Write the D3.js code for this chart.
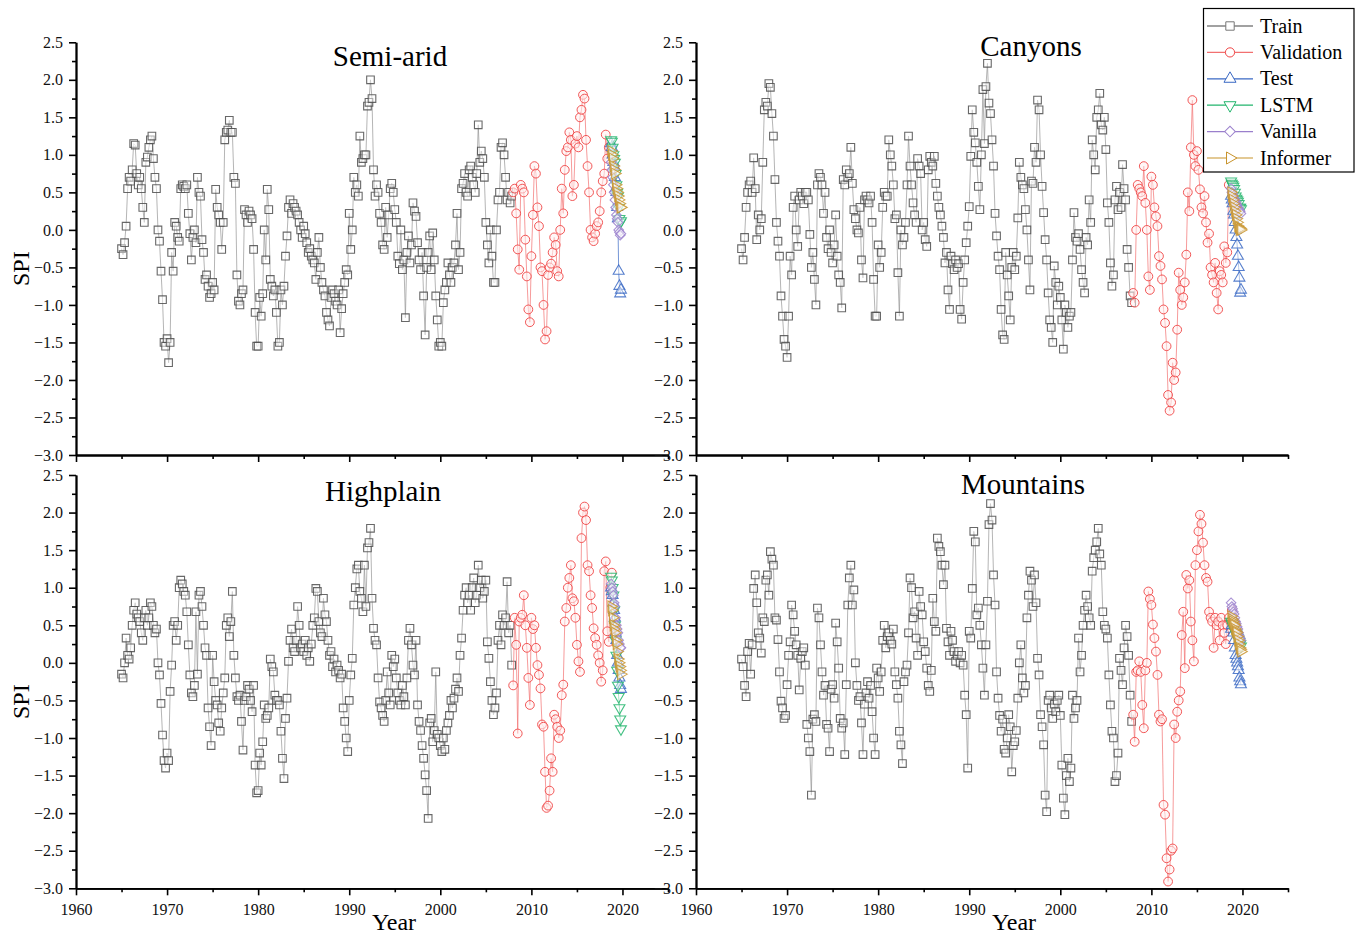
<!DOCTYPE html>
<html><head><meta charset="utf-8">
<script src="https://cdn.jsdelivr.net/npm/d3@7"></script>
<style>
body{margin:0;background:#fff;}
svg{display:block;font-family:"Liberation Serif","Times New Roman",serif;}
svg text{font-family:"Liberation Serif","Times New Roman",serif;}
</style>
</head><body>
<svg id="chart" width="1363" height="936"></svg>
<script>
// ---------------- DATA ----------------
const regionNames = ["Semi-arid", "Canyons", "Highplain", "Mountains"];
const seriesNames = ["Train", "Validation", "Test", "LSTM", "Vanilla", "Informer"];
const trainStart = 1965, valStart = 2008, testStart = 2018.75;
const coarseStep = 1 / 6, testStep = 1 / 12;
const xMajorTicks = [1960, 1970, 1980, 1990, 2000, 2010, 2020];
const xMinorTicks = [1965, 1975, 1985, 1995, 2005, 2015, 2025];
const yMajorTicks = [-3.0, -2.5, -2.0, -1.5, -1.0, -0.5, 0.0, 0.5, 1.0, 1.5, 2.0, 2.5];
const yMinorTicks = [-2.75, -2.25, -1.75, -1.25, -0.75, -0.25, 0.25, 0.75, 1.25, 1.75, 2.25];

const semiTrain = [
-0.25,-0.33,-0.17,0.05,0.55,0.7, 0.65,0.8,1.15,1.13,0.75,0.6, 0.7,0.55,0.3,0.1,0.9,0.97,
1.1,1.2,1.25,0.95,0.7,0.55, 0.0,-0.15,-0.55,-0.93,-1.5,-1.55, -1.45,-1.77,-1.5,-0.3,-0.55,0.1,
0.05,-0.1,-0.15,0.55,0.6,0.58, 0.55,0.6,0.22,-0.05,-0.4,-0.1, 0.0,-0.17,0.7,0.5,0.45,-0.13,
-0.3,-0.66,-0.6,-0.75,-0.9,-0.85, -0.7,-0.8,0.54,0.3,0.2,0.1, -0.26,0.1,1.2,1.3,1.33,1.46,
1.3,1.3,0.7,0.62,-0.6,-0.95, -1.0,-0.85,-0.8,0.27,0.2,0.1, 0.25,0.2,0.15,-0.26,-1.1,-1.55,
-1.55,-0.9,-1.15,-0.85,0.0,-0.4, 0.54,0.27,-0.66,-0.75,-0.88,-0.8, -1.1,-1.55,-1.5,-0.8,-1.0,-0.75,
-0.35,-0.08,0.3,0.4,0.22,0.35, 0.3,0.25,0.2,0.1,0.0,-0.1, 0.05,-0.05,-0.17,-0.3,-0.25,-0.35,
-0.4,-0.44,-0.66,-0.3,-0.1,-0.5, -0.7,-0.8,-0.88,-1.1,-1.2,-1.28, -0.9,-0.8,-0.85,-0.95,-1.0,-0.8,
-1.37,-1.05,-0.85,-0.7,-0.53,-0.6, 0.22,-0.26,0.0,0.7,0.5,0.6, 0.45,1.25,0.9,0.95,1.0,1.0,
1.65,1.7,2.0,1.75,0.8,0.45, 0.6,0.5,0.22,0.1,-0.2,-0.26, 0.3,-0.1,0.2,0.55,0.62,0.5,
0.27,0.1,-0.35,-0.45,0.0,-0.53, -0.4,-1.17,-0.3,-0.08,-0.44,-0.2, 0.36,0.25,0.18,-0.17,-0.4,-0.53,
-0.3,-0.88,-1.4,-0.5,-0.3,-0.08, -0.53,-0.04,-0.4,-0.88,-1.2,-1.55, -1.5,-1.55,-0.97,-0.8,-0.7,-0.44,
-0.6,-0.7,-0.5,-0.44,-0.2,0.22, -0.53,-0.3,0.55,0.62,0.75,0.5, 0.45,0.8,0.85,0.7,0.6,0.5,
0.75,1.4,0.9,1.05,0.95,0.7, 0.1,-0.2,-0.44,0.0,-0.35,-0.7, -0.7,0.0,0.4,0.5,1.1,1.16,
1.0,0.7,0.4,0.5,0.36,0.45];
const semiVal = [
0.5,0.55,0.22,-0.26,-0.53,0.6, 0.55,0.5,-0.13,-0.62,-1.06,-1.23, -0.35,0.2,0.85,0.75,0.3,0.05,
-0.5,-0.55,-1.0,-1.46,-1.35,-0.6, -0.5,-0.45,-0.3,-0.1,-0.2,-0.55, -0.62,0.0,0.55,0.22,0.8,1.05,
1.1,1.3,1.2,0.45,0.6,1.15, 1.25,1.1,1.5,1.6,1.8,1.75, 1.2,0.85,0.5,0.0,-0.1,-0.15,
-0.05,0.05,0.1,0.25,0.5,0.65, 0.75,1.27,0.95,1.1];
const semiTest = [1.15,1.1,1.0,0.9,0.85,0.7,0.55,0.5,0.3,0.15,-0.55,-0.75,-0.85,-0.8];
const semiLSTM = [1.2,1.18,1.1,1.0,0.95,0.9,0.75,0.6,0.5,0.45,0.3,0.15,0.1,0.12];
const semiVanilla = [0.9,0.8,0.7,0.6,0.5,0.4,0.3,0.2,0.15,0.1,0.0,-0.03,-0.07,-0.05];
const semiInformer = [1.05,1.0,0.95,0.85,0.8,0.75,0.6,0.55,0.5,0.45,0.4,0.35,0.3,0.3];

const canyTrain = [
-0.25,-0.4,-0.1,0.3,0.5,0.6, 0.65,0.5,0.96,0.55,-0.13,0.2, 0.0,0.15,0.9,1.6,1.7,1.65,
1.95,1.9,1.55,1.25,0.67,0.1, -0.15,-0.35,-0.88,-1.15,-1.46,-1.55, -1.7,-1.15,-0.35,-0.6,0.3,0.45,
0.0,-0.22,0.4,0.5,0.45,0.35, 0.5,0.5,0.4,-0.06,-0.5,-0.3, -0.66,-1.0,0.6,0.75,0.7,0.6,
0.22,0.5,-0.1,-0.25,0.0,-0.3, -0.44,-0.2,0.2,-0.35,-0.6,-0.7, -1.04,0.67,0.6,0.8,0.7,0.75,
1.1,0.62,0.27,0.15,0.0,-0.04, 0.3,-0.4,-0.64,0.4,0.45,0.4, 0.36,0.45,0.1,-0.66,-1.15,-1.15,
-0.2,-0.5,-0.3,0.3,0.5,0.45, 0.45,1.2,1.0,0.85,0.6,0.15, 0.2,-0.57,-1.15,0.0,-0.2,-0.1,
0.1,0.6,1.25,0.85,0.6,0.36, 0.2,0.1,0.95,0.85,0.75,0.0, 0.1,-0.13,-0.22,0.8,0.98,0.9,
0.85,0.98,0.62,0.45,0.3,0.2, 0.05,-0.1,-0.44,-0.3,-0.8,-1.06, -0.35,-0.45,-0.53,-0.4,-0.5,-0.45,
-1.06,-1.19,-0.7,-0.4,-0.17,0.05, 0.31,0.98,1.6,1.3,1.16,0.9, 0.58,0.27,1.0,1.87,1.15,1.91,
2.22,1.69,1.55,1.2,0.85,0.22, -0.08,-0.35,-0.53,-1.06,-1.4,-1.46, -0.3,-0.6,-0.88,-1.2,-0.5,-0.3,
-0.53,-0.35,0.16,0.9,0.7,0.6, 0.55,0.27,0.0,-0.4,-0.8,0.65, 0.62,1.1,0.9,1.73,1.6,1.0,
0.58,0.23,-0.13,-0.4,-0.84,-1.2, -1.3,-1.5,-0.48,-0.7,-1.0,-0.75, -0.9,-1.2,-1.59,-1.0,-1.1,-1.3,
-1.15,-1.1,-0.4,0.23,-0.1,-0.15, -0.05,-0.26,-0.53,-0.7,-0.84,-0.1, -0.2,0.4,0.1,1.2,1.0,0.8,
1.5,1.6,1.82,1.4,1.33,1.5, 1.07,0.36,0.1,-0.44,-0.75,-0.6, 0.4,0.58,0.27,0.5,0.3,0.87,
0.55,0.4,-0.26,-0.5,-0.88,-0.97];
const canyVal = [
-0.84,-0.97,0.0,0.6,0.55,0.5, 0.45,0.85,0.36,0.0,-0.62,-0.8, 0.71,0.6,0.3,0.18,0.05,-0.35,
-0.48,-0.66,-1.06,-1.24,-1.55,-2.2, -2.41,-2.3,-1.77,-2.0,-1.9,-1.33, -0.57,-0.8,-1.0,-0.9,-0.7,-0.33,
0.5,0.25,1.1,1.73,1.0,0.85, 1.05,0.8,0.54,0.3,0.22,0.45, 0.1,-0.17,-0.05,-0.5,-0.6,-0.7,
-0.44,-0.84,-1.06,-0.55,-0.6,-0.7, -0.22,-0.44,-0.3,0.6];
const canyTest = [0.45,0.4,0.35,0.25,0.2,0.1,0.0,-0.1,-0.2,-0.35,-0.5,-0.64,-0.84,-0.8];
const canyLSTM = [0.65,0.62,0.6,0.58,0.55,0.5,0.45,0.42,0.4,0.38,0.35,0.3,0.3,0.28];
const canyVanilla = [0.55,0.5,0.48,0.45,0.42,0.4,0.38,0.35,0.33,0.3,0.28,0.25,0.25,0.22];
const canyInformer = [0.5,0.45,0.4,0.35,0.3,0.25,0.2,0.15,0.1,0.05,0.03,0.0,0.02,0.0];

const highTrain = [
-0.15,-0.2,0.0,0.33,0.1,0.05, 0.2,0.5,0.7,0.8,0.65,0.6, 0.55,0.4,0.3,0.6,0.7,0.5,
0.6,0.8,0.75,0.5,0.4,0.45, 0.0,-0.16,-0.54,-0.96,-1.3,-1.4, -1.2,-1.3,-0.38,-0.03,0.5,0.55,
0.3,0.5,1.0,1.1,1.05,0.95, 0.9,0.68,0.24,-0.16,-0.4,-0.45, -0.3,0.68,-0.15,0.9,0.95,0.75,
0.5,0.2,0.1,-0.6,-0.85,-1.1, 0.1,-0.25,-0.5,-0.56,-0.8,-0.91, -0.6,-0.4,-0.2,0.5,0.6,0.35,
0.55,0.95,0.1,-0.2,-0.45,-0.5, -0.43,-0.78,-1.16,-0.5,-0.45,-0.3, -0.35,-0.5,-0.65,-0.3,-1.36,-1.73,
-1.7,-1.2,-1.36,-1.05,-0.56,-0.74, -0.7,-0.6,0.05,-0.05,-0.12,-0.43, -0.5,-0.5,-0.56,-0.91,-1.27,-1.54,
-0.74,-0.47,0.02,0.3,0.45,0.2, 0.15,0.3,0.75,0.5,0.2,0.25, 0.15,0.3,0.1,0.2,0.02,0.25,
0.5,0.6,0.99,0.95,0.55,0.4, 0.35,0.86,0.64,0.55,0.3,0.1, 0.15,-0.05,0.05,-0.12,-0.03,-0.1,
-0.2,-0.15,-0.6,-0.78,-1.0,-1.18, -0.5,-0.16,0.06,0.77,1.0,1.25, 1.3,0.95,0.86,0.68,1.3,0.75,
1.53,1.6,1.79,0.86,0.46,0.3, 0.24,-0.2,-0.52,-0.6,-0.7,-0.78, -0.5,-0.12,-0.4,-0.56,0.1,-0.05,
0.05,-0.2,-0.4,-0.5,-0.56,-0.3, -0.45,-0.56,-0.2,0.3,0.46,0.24, -0.03,-0.16,0.3,-0.56,-0.78,-0.9,
-1.1,-1.27,-1.49,-1.7,-2.07,-0.8, -0.74,-1.05,-0.9,-0.12,-0.95,-1.0, -1.1,-1.18,-1.0,-1.15,-0.9,-0.8,
-0.7,-0.5,-0.6,-0.47,-0.35,-0.2, -0.38,0.1,0.33,0.7,0.9,1.0, 0.8,0.9,0.7,1.0,1.13,0.8,
0.9,1.3,1.0,1.1,0.86,0.95, 1.1,0.28,0.06,-0.25,-0.5,-0.69, -0.6,-0.4,0.3,0.5,0.24,0.64,
0.5,0.6,1.08,0.4,0.5,-0.03];
const highVal = [
-0.3,0.6,0.24,-0.94,0.55,0.6, 0.64,0.9,0.5,0.2,-0.2,-0.56, 0.6,0.45,0.5,0.2,-0.03,-0.16,
-0.34,-0.82,-0.85,-1.45,-1.93,-1.9, -1.7,-1.27,-1.45,-0.69,-0.75,-0.85, -1.0,-0.9,-0.43,-0.29,0.55,0.73,
1.0,1.13,1.3,0.86,0.82,0.6, 0.24,0.02,-0.12,1.66,2.0,2.08, 1.9,1.3,1.22,0.9,0.73,0.46,
0.33,0.24,0.1,0.0,-0.25,-0.1, 1.22,1.35,0.42,0.28,1.0,1.2];
const highTest = [1.0,0.95,0.9,0.8,0.7,0.6,0.4,0.3,0.1,0.0,-0.1,-0.2,-0.3,-0.35];
const highLSTM = [1.15,1.1,1.0,0.9,0.7,0.5,0.3,0.1,-0.1,-0.3,-0.45,-0.6,-0.75,-0.88];
const highVanilla = [1.05,1.0,0.95,0.9,0.8,0.75,0.6,0.5,0.45,0.4,0.3,0.25,0.2,0.2];
const highInformer = [0.75,0.7,0.6,0.5,0.45,0.4,0.3,0.25,0.15,0.05,0.0,-0.05,-0.1,-0.15];

const mounTrain = [
0.05,-0.05,-0.3,-0.45,0.15,0.26, -0.15,0.24,0.99,1.17,0.8,0.4, 0.33,0.13,0.6,0.55,1.1,1.17,
0.9,1.48,1.38,1.3,0.6,0.57, 0.31,-0.12,-0.51,-0.6,-0.74,-0.7, -0.29,0.1,0.28,0.77,0.64,0.42,
0.24,0.1,-0.36,0.06,0.15,0.2, -0.03,-0.82,-1.0,-1.18,-1.76,-0.75, -0.69,-0.78,0.73,0.6,0.24,-0.12,
-0.43,-0.3,-0.82,-0.87,-1.18,-0.35, -0.29,-0.47,0.53,0.28,-0.07,-0.74, -0.87,-0.8,-1.22,-0.29,0.77,1.13,
1.3,0.77,0.97,0.0,-0.3,-0.5, -0.45,-0.8,-1.22,-0.55,-0.4,-0.25, -0.47,-0.3,-0.65,-1.0,-1.22,-0.07,
-0.2,-0.38,-0.12,0.3,0.5,0.2, 0.35,0.4,0.3,0.25,0.45,-0.12, -0.29,-0.47,-0.91,-1.09,-1.34,-0.25,
-0.12,-0.03,0.4,1.13,1.0,0.6, 0.68,0.33,0.1,0.95,0.75,0.64, 0.28,0.15,-0.07,-0.3,-0.38,-0.1,
0.86,0.55,0.42,1.66,1.55,1.48, 1.3,1.04,1.3,0.46,0.28,0.1, 0.42,0.3,0.15,0.02,0.1,0.15,
0.0,0.1,-0.03,-0.43,-0.69,-1.4, 0.42,0.33,0.99,1.75,1.61,0.64, 0.73,0.5,0.24,-0.07,-0.43,0.24,
0.82,1.84,2.12,1.9,1.17,0.77, -0.12,-0.47,-0.7,-0.91,-0.75,-1.15, -1.2,-1.0,-0.69,-0.85,-1.45,-1.1,
-1.05,-0.9,-0.47,0.0,0.24,-0.2, -0.4,-0.3,0.6,0.9,1.22,1.1, 0.75,1.17,0.8,0.06,-0.16,-0.69,
-0.85,-1.09,-1.76,-1.98,-0.5,-0.43, -0.6,-0.74,-0.55,-0.65,-0.5,-0.43, -0.7,-1.36,-1.8,-2.02,-1.5,-1.27,
-1.58,-1.4,-0.43,-0.74,-0.6,-0.5, 0.33,-0.12,0.1,0.5,0.7,0.9, 0.75,0.6,0.5,1.22,1.4,1.5,
1.61,1.79,1.45,1.3,0.68,0.5, 0.45,0.33,-0.16,-0.56,-0.91,-1.0, -1.58,-1.5,-1.2,0.06,-0.1,-0.29,
0.2,0.5,0.35,0.1,-0.43,-0.78];
const mounVal = [
-0.69,-1.05,-0.12,-0.1,0.02,-0.12, -0.56,-0.87,-0.1,0.0,0.95,0.85, 0.77,0.51,0.33,0.15,-0.16,-0.69,
-0.78,-0.75,-1.89,-2.02,-2.6,-2.91, -2.75,-2.5,-2.47,-0.82,-1.0,-0.65, -0.5,-0.38,0.37,0.68,-0.07,1.17,
0.99,1.1,0.55,0.3,0.02,1.3, 1.5,1.75,1.97,1.85,1.6,1.3, 1.13,1.08,0.68,0.6,0.55,0.2,
0.6,0.5,0.55,0.3,0.6,0.5, 0.4,0.25,0.5,0.6,0.55,0.7];
const mounTest = [0.45,0.5,0.6,0.4,0.3,0.2,0.1,0.05,0.0,-0.05,-0.1,-0.2,-0.25,-0.29];
const mounLSTM = [0.55,0.52,0.5,0.48,0.45,0.42,0.4,0.38,0.35,0.33,0.3,0.28,0.25,0.22];
const mounVanilla = [0.8,0.75,0.72,0.68,0.65,0.6,0.55,0.52,0.48,0.45,0.4,0.36,0.33,0.3];
const mounInformer = [0.62,0.58,0.55,0.52,0.5,0.45,0.42,0.4,0.35,0.3,0.25,0.2,0.18,0.15];

// ---------------- STYLES / LAYOUT ----------------
const styles = {
  Train:      {color: "#4d4d4d", line: "#959595", fill: "#ffffff", sym: "square"},
  Validation: {color: "#f04646", line: "#f27070", fill: "#fff0f0", sym: "circle"},
  Test:       {color: "#3a69c4", line: "#3a69c4", fill: "#ffffff", sym: "up"},
  LSTM:       {color: "#22b56c", line: "#22b56c", fill: "#ffffff", sym: "down"},
  Vanilla:    {color: "#9a7fcc", line: "#9a7fcc", fill: "#ffffff", sym: "diamond"},
  Informer:   {color: "#c8932a", line: "#c8932a", fill: "#ffffff", sym: "right"}
};

const layout = [
  {x0: 76,  x1: 668,  y0: 42.3, y1: 455,   tx: 390,  ty: 66,  xlabels: false, spi: true},
  {x0: 696, x1: 1288, y0: 42.3, y1: 455,   tx: 1031, ty: 56,  xlabels: false, spi: false},
  {x0: 76,  x1: 668,  y0: 475,  y1: 888.3, tx: 383,  ty: 501, xlabels: true,  spi: true},
  {x0: 696, x1: 1288, y0: 475,  y1: 888.3, tx: 1023, ty: 494, xlabels: true,  spi: false}
];

const panelData = [
  {Train: semiTrain, Validation: semiVal, Test: semiTest, LSTM: semiLSTM, Vanilla: semiVanilla, Informer: semiInformer},
  {Train: canyTrain, Validation: canyVal, Test: canyTest, LSTM: canyLSTM, Vanilla: canyVanilla, Informer: canyInformer},
  {Train: highTrain, Validation: highVal, Test: highTest, LSTM: highLSTM, Vanilla: highVanilla, Informer: highInformer},
  {Train: mounTrain, Validation: mounVal, Test: mounTest, LSTM: mounLSTM, Vanilla: mounVanilla, Informer: mounInformer}
];

function seriesPoints(name, vals) {
  let start, step;
  if (name === "Train") { start = trainStart; step = coarseStep; }
  else if (name === "Validation") { start = valStart; step = coarseStep; }
  else { start = testStart; step = testStep; }
  return vals.map((v, i) => ({t: start + i * step, v: v}));
}

function markerPath(sym, big) {
  const k = big ? 1.1 : 1;
  switch (sym) {
    case "square": return d3.symbol(d3.symbolSquare, 58 * k * k)();
    case "up": return d3.symbol(d3.symbolTriangle, 52 * k * k)();
    case "down": return d3.symbol(d3.symbolTriangle, 52 * k * k)();
    case "right": return d3.symbol(d3.symbolTriangle, 52 * k * k)();
    case "diamond": return d3.symbol(d3.symbolSquare, 46 * k * k)();
    default: return null;
  }
}
function markerRot(sym) {
  return {down: 180, right: 90, diamond: 45}[sym] || 0;
}

const svg = d3.select("#chart");
const black = "#000";
const serif = "'Liberation Serif', 'Times New Roman', serif";

layout.forEach((L, pi) => {
  const x = d3.scaleLinear().domain([1960, 2025]).range([L.x0, L.x1]);
  const y = d3.scaleLinear().domain([-3, 2.5]).range([L.y1, L.y0]);
  const g = svg.append("g");

  // data
  seriesNames.forEach(name => {
    const st = styles[name];
    const pts = seriesPoints(name, panelData[pi][name]);
    g.append("path").datum(pts)
      .attr("fill", "none").attr("stroke", st.line).attr("stroke-width", 0.7)
      .attr("d", d3.line().x(d => x(d.t)).y(d => y(d.v)));
    const mg = g.append("g");
    if (st.sym === "circle") {
      mg.selectAll("circle").data(pts).join("circle")
        .attr("cx", d => x(d.t)).attr("cy", d => y(d.v)).attr("r", 4.4)
        .attr("fill", st.fill).attr("fill-opacity", 0.55)
        .attr("stroke", st.color).attr("stroke-width", 1).attr("stroke-opacity", 0.9);
    } else {
      const p = markerPath(st.sym, false);
      mg.selectAll("path").data(pts).join("path")
        .attr("d", p)
        .attr("transform", d => `translate(${x(d.t)},${y(d.v)}) rotate(${markerRot(st.sym)})`)
        .attr("fill", st.fill).attr("fill-opacity", 0.45)
        .attr("stroke", st.color).attr("stroke-width", 1.1).attr("stroke-opacity", 0.85);
    }
  });

  // axes
  const fmt = d3.format(".1f");
  const yAx = g.append("g").attr("transform", `translate(${L.x0},0)`)
    .call(d3.axisLeft(y).tickValues(yMajorTicks).tickFormat(fmt).tickSize(7).tickSizeOuter(0).tickPadding(6));
  const yMin = g.append("g").attr("transform", `translate(${L.x0},0)`)
    .call(d3.axisLeft(y).tickValues(yMinorTicks).tickFormat("").tickSize(4).tickSizeOuter(0));
  const xAx = g.append("g").attr("transform", `translate(0,${L.y1})`)
    .call(d3.axisBottom(x).tickValues(xMajorTicks)
      .tickFormat(L.xlabels ? d3.format("d") : "").tickSize(7).tickSizeOuter(0).tickPadding(8));
  const xMin = g.append("g").attr("transform", `translate(0,${L.y1})`)
    .call(d3.axisBottom(x).tickValues(xMinorTicks).tickFormat("").tickSize(4).tickSizeOuter(0));
  [yAx, yMin, xAx, xMin].forEach(a => {
    a.attr("font-family", serif).style("font-family", serif);
    a.selectAll(".domain").attr("stroke", black).attr("stroke-width", 1.8);
    a.selectAll(".tick line").attr("stroke", black).attr("stroke-width", 1.6);
    a.selectAll("text").style("font-family", serif)
      .attr("font-size", 16).attr("fill", "#111");
  });

  // title
  svg.append("text").attr("x", L.tx).attr("y", L.ty).attr("text-anchor", "middle")
    .attr("font-size", 29).attr("fill", "#000").text(regionNames[pi]);

  if (L.spi) {
    svg.append("text").attr("transform", `translate(29,${(L.y0 + L.y1) / 2 + 20}) rotate(-90)`)
      .attr("text-anchor", "middle").attr("font-size", 24).attr("fill", "#000").text("SPI");
  }
  if (L.xlabels) {
    svg.append("text").attr("x", (L.x0 + L.x1) / 2 + 22).attr("y", 930)
      .attr("text-anchor", "middle").attr("font-size", 24).attr("fill", "#000").text("Year");
  }
});

// legend
const lg = svg.append("g");
lg.append("rect").attr("x", 1203.5).attr("y", 8.5).attr("width", 150.5).attr("height", 163.5)
  .attr("fill", "#fff").attr("stroke", "#000").attr("stroke-width", 1.2);
seriesNames.forEach((name, i) => {
  const st = styles[name];
  const yy = 26 + i * 26.4;
  lg.append("line").attr("x1", 1207).attr("x2", 1253).attr("y1", yy).attr("y2", yy)
    .attr("stroke", name === "Train" ? "#444" : st.line).attr("stroke-width", 1.2);
  if (st.sym === "circle") {
    lg.append("circle").attr("cx", 1230).attr("cy", yy).attr("r", 4.6)
      .attr("fill", "#fff").attr("stroke", st.color).attr("stroke-width", 1);
  } else {
    lg.append("path").attr("d", markerPath(st.sym, true))
      .attr("transform", `translate(1230,${yy}) rotate(${markerRot(st.sym)})`)
      .attr("fill", "#fff").attr("stroke", name === "Train" ? "#777" : st.color).attr("stroke-width", 1);
  }
  lg.append("text").attr("x", 1260).attr("y", yy + 6.5).attr("font-size", 20)
    .attr("fill", "#000").text(name);
});
</script>
</body></html>
